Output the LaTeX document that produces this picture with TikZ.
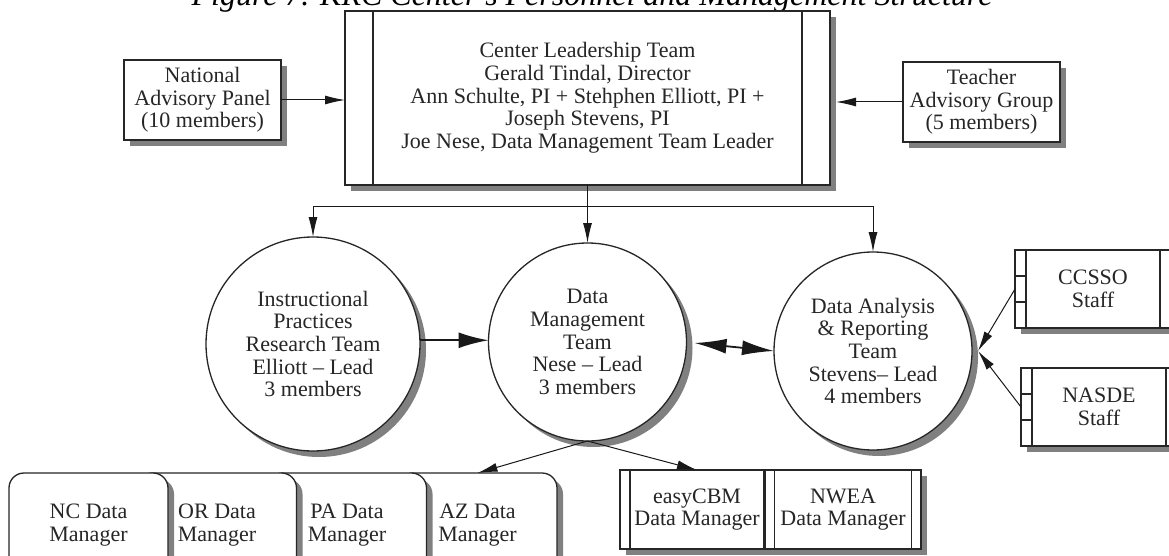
\documentclass[tikz,border=0pt]{standalone}
\usepackage{fontspec}
\setmainfont{Liberation Serif}
\usetikzlibrary{shadows,arrows.meta,calc}
\tikzset{
  boxline/.style={line width=1.3pt, draw=black!85},
  shad/.style={drop shadow={shadow xshift=6pt, shadow yshift=-6pt, fill=black!50, opacity=1}},
  txt/.style={font=\fontsize{22}{22.7}\selectfont, align=center, text=black!85},
  sbox/.style={boxline, shad, fill=white, rectangle, inner sep=0pt, outer sep=0pt, txt},
  rbox/.style={boxline, shad, fill=white, rectangle, rounded corners=15pt, inner sep=0pt, outer sep=0pt, txt, minimum width=159pt, minimum height=104pt},
  team/.style={boxline, shad, fill=white, circle, inner sep=0pt, outer sep=0pt, txt},
  arr/.style={line width=1pt, draw=black!90, -{Latex[length=20pt,width=9pt]}},
  thickarr/.style={line width=2pt, draw=black!90, -{Latex[length=30pt,width=16pt]}},
  dblarr/.style={line width=1.8pt, draw=black!90, {Latex[length=32pt,width=15pt]}-{Latex[length=32pt,width=15pt]}},
}
\newcommand\subrbars[2]{%
  \draw[boxline] ([xshift=#2]#1.north west) -- ([xshift=#2]#1.south west);
  \draw[boxline] ([xshift=-#2]#1.north east) -- ([xshift=-#2]#1.south east);}
\begin{document}
\begin{tikzpicture}[x=1pt,y=-1pt]
\useasboundingbox (0,0) rectangle (1169,556);
\fill[white] (0,0) rectangle (1169,556);
% title (cut at the top edge, as in the reference)
\node[anchor=base, inner sep=0pt, font=\fontsize{32}{34}\selectfont\itshape] (title) at (592,5.5)
  {Figure 7. KRC Center's Personnel and Management Structure};
% leadership
\node[sbox, minimum width=485pt, minimum height=174pt] (main) at (587.5,98)
  {Center Leadership Team\\Gerald Tindal, Director\\Ann Schulte, PI + Stehphen Elliott, PI +\\Joseph Stevens, PI\\Joe Nese, Data Management Team Leader};
\subrbars{main}{28pt}
\node[sbox, minimum width=157pt, minimum height=80pt] (nap) at (202.5,100)
  {National\\Advisory Panel\\(10 members)};
\node[sbox, minimum width=157pt, minimum height=80pt] (tag) at (981.5,102)
  {Teacher\\Advisory Group\\(5 members)};
% teams
\node[team, minimum size=214pt] (ip) at (313,344)
  {Instructional\\Practices\\Research Team\\Elliott -- Lead\\3 members};
\node[team, minimum size=198pt] (dm) at (587.5,342)
  {Data\\Management\\Team\\Nese -- Lead\\3 members};
\node[team, minimum size=198pt] (da) at (873,351)
  {Data Analysis\\\& Reporting\\Team\\Stevens-- Lead\\4 members};
% partner staff
\node[sbox, minimum width=156pt, minimum height=78pt] (ccs) at (1093,289) {CCSSO\\Staff};
\subrbars{ccs}{11pt}
\draw[boxline] ($(ccs.north west)!1/3!(ccs.south west)$) -- ++(11,0);
\draw[boxline] ($(ccs.north west)!2/3!(ccs.south west)$) -- ++(11,0);
\node[sbox, minimum width=156pt, minimum height=78pt] (nas) at (1099,407) {NASDE\\Staff};
\subrbars{nas}{11pt}
\draw[boxline] ($(nas.north west)!1/3!(nas.south west)$) -- ++(11,0);
\draw[boxline] ($(nas.north west)!2/3!(nas.south west)$) -- ++(11,0);
% state data managers (stacked, left one on top)
\node[rbox] (az) at (477.5,525) {AZ Data\\Manager};
\node[rbox] (pa) at (347,525) {PA Data\\Manager};
\node[rbox] (or) at (217,525) {OR Data\\Manager};
\node[rbox] (nc) at (88.5,525) {NC Data\\Manager};
% assessment data managers
\node[sbox, minimum width=154pt, minimum height=79pt] (ecbm) at (697,509.5) {easyCBM\\Data Manager};
\subrbars{ecbm}{10pt}
\node[sbox, minimum width=156pt, minimum height=79pt] (nwea) at (843,509.5) {NWEA\\Data Manager};
\subrbars{nwea}{9.5pt}
% connectors
\draw[arr] (nap.east) -- (nap.east -| main.west);
\draw[arr] (tag.west) -- ($(tag.west -| main.east)+(6,0)$);
\coordinate (j) at (587.5,206);
\draw[arr] (main.south) -- (dm.north);
\draw[line width=1pt, draw=black!90] (j) -- (j -| da.north);
\draw[arr] (j) -| (ip.north);
\draw[arr] (j) -| (da.north);
\draw[thickarr] (ip.2) -- (ip.2 -| dm.west);
\draw[dblarr] ($(dm.east)+(8,1)$) -- (da.west);
\coordinate (dae) at ($(da.east)+(6,0)$);
\draw[arr] (ccs.west) -- (dae);
\draw[arr] (nas.west) -- (dae);
\draw[arr] (dm.south) -- (az.north);
\draw[arr] (dm.south) -- (ecbm.north);
\end{tikzpicture}
\end{document}
